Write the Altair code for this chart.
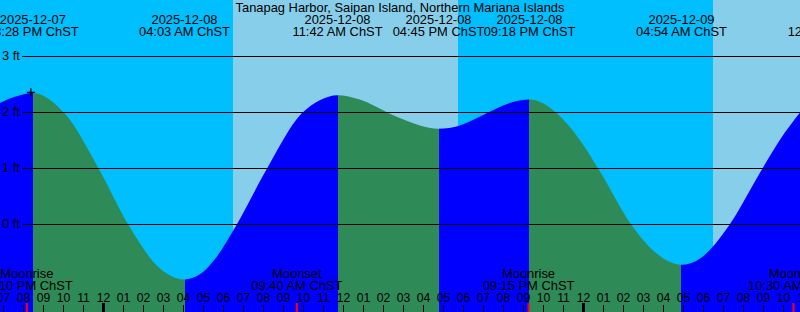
import altair as alt
import pandas as pd

BASE = pd.Timestamp("2025-12-08 00:00")


def hrs(s):
    return (pd.Timestamp(s) - BASE) / pd.Timedelta(hours=1)


TITLE = "Tanapag Harbor, Saipan Island, Northern Mariana Islands"

VIEW_START = "2025-12-07 18:49:30"
VIEW_END = "2025-12-09 10:49:30"

# tide curve readings (time, feet)
tide_times = [
    "2025-12-07 18:49:30", "2025-12-07 19:34", "2025-12-07 20:28", "2025-12-07 22:04",
    "2025-12-07 23:49", "2025-12-08 01:16", "2025-12-08 02:40", "2025-12-08 04:03",
    "2025-12-08 04:49", "2025-12-08 05:34", "2025-12-08 06:36", "2025-12-08 08:06",
    "2025-12-08 09:54", "2025-12-08 10:49", "2025-12-08 11:42", "2025-12-08 12:49",
    "2025-12-08 14:09", "2025-12-08 14:49", "2025-12-08 15:49", "2025-12-08 16:45",
    "2025-12-08 17:49", "2025-12-08 19:14", "2025-12-08 20:19", "2025-12-08 21:18",
    "2025-12-08 22:39", "2025-12-08 23:49", "2025-12-09 00:49", "2025-12-09 02:24",
    "2025-12-09 03:34", "2025-12-09 04:54", "2025-12-09 05:49", "2025-12-09 07:14",
    "2025-12-09 08:52", "2025-12-09 09:49", "2025-12-09 10:49:30",
]
tide_heights = [
    2.17, 2.28, 2.35, 1.98,
    0.96, -0.02, -0.73, -0.98,
    -0.89, -0.62, -0.04, 0.95,
    1.98, 2.22, 2.31, 2.23,
    2.01, 1.90, 1.77, 1.71,
    1.77, 2.0, 2.17, 2.23,
    1.99, 1.51, 0.95, -0.01,
    -0.49, -0.72, -0.61, -0.04,
    0.95, 1.51, 2.0,
]

# high / low tide events
event_times = ["2025-12-07 20:28", "2025-12-08 04:03", "2025-12-08 11:42", "2025-12-08 16:45",
               "2025-12-08 21:18", "2025-12-09 04:54", "2025-12-09 12:30"]
event_kinds = ["high", "low", "high", "low", "high", "low", "high"]
event_dates = ["2025-12-07", "2025-12-08", "2025-12-08", "2025-12-08",
               "2025-12-08", "2025-12-09", "2025-12-09"]
event_labels = ["08:28 PM ChST", "04:03 AM ChST", "11:42 AM ChST", "04:45 PM ChST",
                "09:18 PM ChST", "04:54 AM ChST", "12:30 PM ChST"]

# moon events
moon_times = ["2025-12-07 20:10", "2025-12-08 09:40", "2025-12-08 21:15", "2025-12-09 10:30"]
moon_kinds = ["Moonrise", "Moonset", "Moonrise", "Moonset"]
moon_labels = ["08:10 PM ChST", "09:40 AM ChST", "09:15 PM ChST", "10:30 AM ChST"]

# sun: boundaries between night and day
sun_times = ["2025-12-08 06:28:30", "2025-12-08 17:43:30", "2025-12-09 06:28:30"]
sun_phases = ["night", "day", "night", "day"]

depth_levels = [0, 1, 2, 3]
depth_labels = ["0 ft", "1 ft", "2 ft", "3 ft"]

marker_time = ["2025-12-07 20:22"]
marker_height = [2.36]

hour_first, hour_last = -6, 35

# ---------------------------------------------------------------
XMIN, XMAX = hrs(VIEW_START), hrs(VIEW_END)
YMAX = 224.5 / 56.0
YMIN = (224.5 - 312.0) / 56.0

FONT = "Liberation Sans"
FS = 12.9
FS_H = 12.2

xs = alt.Scale(domain=[XMIN, XMAX], nice=False, zero=False)
ys = alt.Scale(domain=[YMIN, YMAX], nice=False, zero=False)


def X(f="t"):
    return alt.X(f"{f}:Q", scale=xs, axis=None)


def Y(f="h"):
    return alt.Y(f"{f}:Q", scale=ys, axis=None)


tide_df = pd.DataFrame({"t": [hrs(s) for s in tide_times], "h": tide_heights})

# background day / night
bounds = [XMIN] + [hrs(s) for s in sun_times] + [XMAX]
sky_df = pd.DataFrame({"t0": bounds[:-1], "t1": bounds[1:], "phase": sun_phases})
sky = alt.Chart(sky_df).mark_rect(opacity=1, strokeWidth=0).encode(
    x=X("t0"), x2="t1:Q", y=alt.value(0), y2=alt.value(312),
    color=alt.Color("phase:N", scale=alt.Scale(domain=["day", "night"], range=["#87CEEB", "#00BFFF"]), legend=None),
)

# tide area with rising (blue) / falling (green) gradient
RISE, FALL = "#0000FF", "#2E8B57"
stops = []
cur = RISE if event_kinds[0] == "high" else FALL
stops.append(alt.GradientStop(color=cur, offset=0))
for s, k in zip(event_times, event_kinds):
    t = hrs(s)
    if XMIN < t < XMAX:
        off = (t - XMIN) / (XMAX - XMIN)
        nxt = FALL if k == "high" else RISE
        stops.append(alt.GradientStop(color=cur, offset=off))
        stops.append(alt.GradientStop(color=nxt, offset=off))
        cur = nxt
stops.append(alt.GradientStop(color=cur, offset=1))

tide = alt.Chart(tide_df).mark_area(
    interpolate="monotone", opacity=1,
    color=alt.Gradient(gradient="linear", stops=stops, x1=0, x2=1, y1=0, y2=0),
).encode(x=X(), y=Y(), y2=alt.datum(YMIN))

depth_df = pd.DataFrame({"h": depth_levels, "label": depth_labels})
grid = alt.Chart(depth_df).mark_rule(color="black", strokeWidth=1).encode(
    y=Y(), x=alt.value(22), x2=alt.value(800))
grid_lab = alt.Chart(depth_df).mark_text(
    align="left", baseline="alphabetic", dy=3.5, font=FONT, fontSize=FS, color="black"
).encode(y=Y(), x=alt.value(2), text="label:N")

hours = list(range(hour_first, hour_last + 1))
hour_df = pd.DataFrame({
    "t": hours,
    "label": [f"{(h % 12) or 12:02d}" for h in hours],
    "midnight": [h % 24 == 0 for h in hours],
})
ticks = alt.Chart(hour_df[~hour_df["midnight"]]).mark_rule(color="black", strokeWidth=1).encode(
    x=X(), y=alt.value(305), y2=alt.value(312))
mticks = alt.Chart(hour_df[hour_df["midnight"]]).mark_rule(color="black", strokeWidth=3).encode(
    x=X(), y=alt.value(303), y2=alt.value(312))
hour_lab = alt.Chart(hour_df).mark_text(
    align="center", baseline="alphabetic", font=FONT, fontSize=FS_H, color="black"
).encode(x=X(), y=alt.value(301.5), text="label:N")

moon_df = pd.DataFrame({"t": [hrs(s) for s in moon_times], "kind": moon_kinds, "label": moon_labels})
moon_ticks = alt.Chart(moon_df).mark_rule(color="#FF0000", strokeWidth=2).encode(
    x=X(), y=alt.value(303), y2=alt.value(312))
moon_k = alt.Chart(moon_df).mark_text(
    align="center", baseline="alphabetic", font=FONT, fontSize=FS, color="black"
).encode(x=X(), y=alt.value(278.3), text="kind:N")
moon_l = alt.Chart(moon_df).mark_text(
    align="center", baseline="alphabetic", font=FONT, fontSize=FS, color="black"
).encode(x=X(), y=alt.value(290), text="label:N")

ev_df = pd.DataFrame({"t": [hrs(s) for s in event_times], "date": event_dates, "label": event_labels})
ev_d = alt.Chart(ev_df).mark_text(
    align="center", baseline="alphabetic", font=FONT, fontSize=FS, color="black"
).encode(x=X(), y=alt.value(24), text="date:N")
ev_l = alt.Chart(ev_df).mark_text(
    align="center", baseline="alphabetic", font=FONT, fontSize=FS, color="black"
).encode(x=X(), y=alt.value(36), text="label:N")

title = alt.Chart(pd.DataFrame({"s": [TITLE]})).mark_text(
    align="center", baseline="alphabetic", font=FONT, fontSize=FS, color="black"
).encode(x=alt.value(400), y=alt.value(11.5), text="s:N")

mk_df = pd.DataFrame({"t": [hrs(s) for s in marker_time], "h": marker_height})
marker = alt.Chart(mk_df).mark_point(
    shape="M-1,0L1,0M0,-1L0,1", size=64, filled=False, stroke="black", strokeWidth=1.3, opacity=1
).encode(x=X(), y=Y())

chart = alt.layer(
    sky, tide, grid, grid_lab, ticks, mticks, moon_ticks, hour_lab, moon_k, moon_l,
    ev_d, ev_l, title, marker,
).properties(
    width=800, height=312, padding=0,
    autosize=alt.AutoSizeParams(type="none"),
    background="#00BFFF",
).configure_view(stroke=None)

chart.save("out.html", embed_options={"renderer": "svg", "actions": False})
